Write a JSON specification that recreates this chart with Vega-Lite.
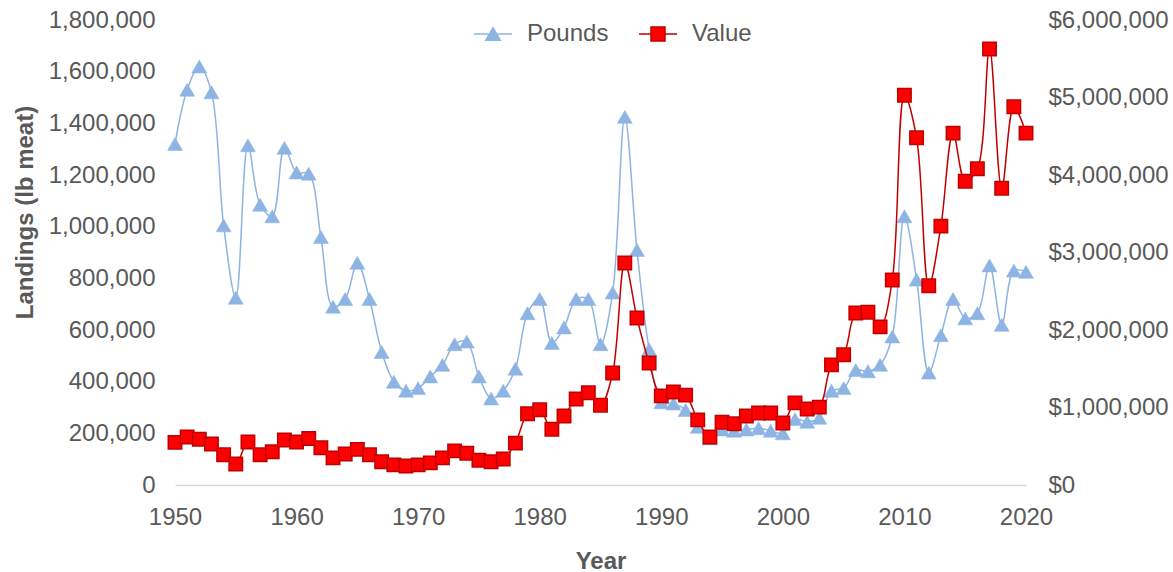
{
  "$schema": "https://vega.github.io/schema/vega-lite/v6.json",
  "autosize": "none",
  "width": 851,
  "height": 465,
  "padding": {"left": 175, "top": 20, "right": 147, "bottom": 87},
  "background": "white",
  "config": {
    "view": {"stroke": null},
    "font": "Liberation Sans",
    "axis": {
      "labelFont": "Liberation Sans",
      "labelFontSize": 24,
      "labelColor": "#595959",
      "titleFont": "Liberation Sans",
      "titleFontSize": 24,
      "titleColor": "#595959",
      "titleFontWeight": "bold",
      "grid": false,
      "ticks": false
    }
  },
  "data": {
    "values": [
      {"year": 1950, "pounds": 1320000, "value": 550000},
      {"year": 1951, "pounds": 1530000, "value": 620000},
      {"year": 1952, "pounds": 1620000, "value": 590000},
      {"year": 1953, "pounds": 1520000, "value": 530000},
      {"year": 1954, "pounds": 1005000, "value": 390000},
      {"year": 1955, "pounds": 725000, "value": 270000},
      {"year": 1956, "pounds": 1315000, "value": 555000},
      {"year": 1957, "pounds": 1085000, "value": 390000},
      {"year": 1958, "pounds": 1040000, "value": 430000},
      {"year": 1959, "pounds": 1305000, "value": 580000},
      {"year": 1960, "pounds": 1210000, "value": 555000},
      {"year": 1961, "pounds": 1205000, "value": 600000},
      {"year": 1962, "pounds": 960000, "value": 480000},
      {"year": 1963, "pounds": 690000, "value": 350000},
      {"year": 1964, "pounds": 720000, "value": 400000},
      {"year": 1965, "pounds": 860000, "value": 460000},
      {"year": 1966, "pounds": 720000, "value": 390000},
      {"year": 1967, "pounds": 515000, "value": 300000},
      {"year": 1968, "pounds": 400000, "value": 260000},
      {"year": 1969, "pounds": 365000, "value": 245000},
      {"year": 1970, "pounds": 375000, "value": 260000},
      {"year": 1971, "pounds": 420000, "value": 285000},
      {"year": 1972, "pounds": 465000, "value": 350000},
      {"year": 1973, "pounds": 545000, "value": 440000},
      {"year": 1974, "pounds": 555000, "value": 410000},
      {"year": 1975, "pounds": 420000, "value": 320000},
      {"year": 1976, "pounds": 335000, "value": 300000},
      {"year": 1977, "pounds": 365000, "value": 335000},
      {"year": 1978, "pounds": 450000, "value": 540000},
      {"year": 1979, "pounds": 665000, "value": 920000},
      {"year": 1980, "pounds": 720000, "value": 970000},
      {"year": 1981, "pounds": 550000, "value": 720000},
      {"year": 1982, "pounds": 610000, "value": 890000},
      {"year": 1983, "pounds": 720000, "value": 1110000},
      {"year": 1984, "pounds": 720000, "value": 1190000},
      {"year": 1985, "pounds": 545000, "value": 1030000},
      {"year": 1986, "pounds": 745000, "value": 1445000},
      {"year": 1987, "pounds": 1425000, "value": 2865000},
      {"year": 1988, "pounds": 910000, "value": 2155000},
      {"year": 1989, "pounds": 525000, "value": 1575000},
      {"year": 1990, "pounds": 320000, "value": 1150000},
      {"year": 1991, "pounds": 315000, "value": 1200000},
      {"year": 1992, "pounds": 290000, "value": 1160000},
      {"year": 1993, "pounds": 225000, "value": 840000},
      {"year": 1994, "pounds": 180000, "value": 620000},
      {"year": 1995, "pounds": 215000, "value": 810000},
      {"year": 1996, "pounds": 210000, "value": 790000},
      {"year": 1997, "pounds": 215000, "value": 890000},
      {"year": 1998, "pounds": 220000, "value": 930000},
      {"year": 1999, "pounds": 210000, "value": 930000},
      {"year": 2000, "pounds": 200000, "value": 800000},
      {"year": 2001, "pounds": 255000, "value": 1060000},
      {"year": 2002, "pounds": 245000, "value": 980000},
      {"year": 2003, "pounds": 260000, "value": 1005000},
      {"year": 2004, "pounds": 365000, "value": 1550000},
      {"year": 2005, "pounds": 375000, "value": 1680000},
      {"year": 2006, "pounds": 445000, "value": 2220000},
      {"year": 2007, "pounds": 440000, "value": 2230000},
      {"year": 2008, "pounds": 465000, "value": 2040000},
      {"year": 2009, "pounds": 575000, "value": 2645000},
      {"year": 2010, "pounds": 1040000, "value": 5030000},
      {"year": 2011, "pounds": 795000, "value": 4480000},
      {"year": 2012, "pounds": 435000, "value": 2570000},
      {"year": 2013, "pounds": 580000, "value": 3340000},
      {"year": 2014, "pounds": 720000, "value": 4540000},
      {"year": 2015, "pounds": 645000, "value": 3920000},
      {"year": 2016, "pounds": 665000, "value": 4080000},
      {"year": 2017, "pounds": 850000, "value": 5625000},
      {"year": 2018, "pounds": 620000, "value": 3830000},
      {"year": 2019, "pounds": 830000, "value": 4880000},
      {"year": 2020, "pounds": 825000, "value": 4540000}
    ]
  },
  "encoding": {
    "x": {
      "field": "year",
      "type": "quantitative",
      "scale": {"domain": [1950, 2020], "nice": false, "zero": false},
      "axis": {
        "values": [1950, 1960, 1970, 1980, 1990, 2000, 2010, 2020],
        "format": "d",
        "title": "Year",
        "labelPadding": 20,
        "labelFlush": false,
        "domainColor": "#D9D9D9",
        "domainWidth": 1.5,
        "titleY": 83,
        "titleBaseline": "alphabetic"
      }
    }
  },
  "layer": [
    {
      "layer": [
        {
          "mark": {"type": "line", "interpolate": "catmull-rom", "strokeWidth": 1.5},
          "encoding": {
            "y": {
              "field": "pounds",
              "type": "quantitative",
              "scale": {"domain": [0, 1800000], "nice": false},
              "axis": {
                "values": [0, 200000, 400000, 600000, 800000, 1000000, 1200000, 1400000, 1600000, 1800000],
                "format": ",d",
                "title": "Landings (lb meat)",
                "domain": false,
                "labelPadding": 20,
                "titleAngle": 270,
                "titleX": -143,
                "titleY": 192,
                "titleAlign": "center",
                "titleBaseline": "alphabetic"
              }
            },
            "color": {
              "datum": "Pounds",
              "type": "nominal",
              "scale": {"domain": ["Pounds", "Value"], "range": ["#8DB4E2", "#C00000"]},
              "legend": {
                "orient": "none",
                "legendX": 303,
                "legendY": -1,
                "direction": "horizontal",
                "title": null,
                "labelFont": "Liberation Sans",
                "labelFontSize": 24,
                "labelColor": "#595959",
                "symbolSize": 784,
                "labelOffset": 19,
                "columnPadding": 26,
                "symbolStrokeWidth": 1.5,
                "encode": {
                  "symbols": {
                    "update": {
                      "shape": {"signal": "datum.value === 'Pounds' ? 'M-1.36,0H-0.3M0.3,0H1.36M0,-0.45L0.52,0.45L-0.52,0.45Z' : 'M-1.36,0H-0.5M0.5,0H1.36M-0.5,-0.5H0.5V0.5H-0.5Z'"},
                      "fill": {"signal": "datum.value === 'Pounds' ? '#8DB4E2' : '#FF0000'"},
                      "stroke": {"signal": "datum.value === 'Pounds' ? '#8DB4E2' : '#C00000'"},
                      "strokeWidth": {"value": 1.5},
                      "opacity": {"value": 1}
                    }
                  }
                }
              }
            }
          }
        },
        {
          "mark": {"type": "point", "shape": "triangle-up", "filled": true, "size": 225, "fill": "#8DB4E2", "stroke": "#8DB4E2", "strokeWidth": 0.5, "opacity": 1},
          "encoding": {"y": {"field": "pounds", "type": "quantitative"}}
        }
      ]
    },
    {
      "layer": [
        {
          "mark": {"type": "line", "interpolate": "catmull-rom", "strokeWidth": 1.5},
          "encoding": {
            "y": {
              "field": "value",
              "type": "quantitative",
              "scale": {"domain": [0, 6000000], "nice": false},
              "axis": {
                "orient": "right",
                "values": [0, 1000000, 2000000, 3000000, 4000000, 5000000, 6000000],
                "format": "$,d",
                "title": null,
                "domain": false,
                "labelPadding": 22
              }
            },
            "color": {"datum": "Value", "type": "nominal"}
          }
        },
        {
          "mark": {"type": "point", "shape": "square", "filled": true, "size": 180, "fill": "#FF0000", "stroke": "#C00000", "strokeWidth": 1.5, "opacity": 1},
          "encoding": {"y": {"field": "value", "type": "quantitative"}}
        }
      ]
    }
  ],
  "resolve": {"scale": {"y": "independent"}}
}
